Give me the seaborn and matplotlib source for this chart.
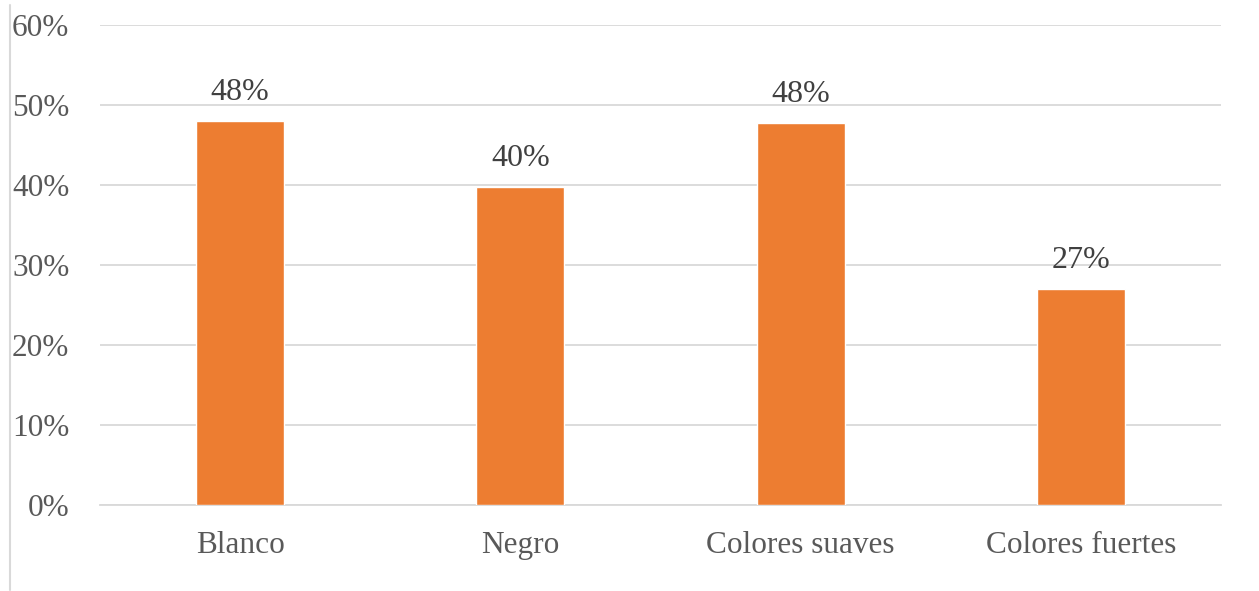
import matplotlib
matplotlib.use("Agg")
import matplotlib.pyplot as plt
import seaborn as sns
import pandas as pd
from matplotlib.lines import Line2D

categories = ["Blanco", "Negro", "Colores suaves", "Colores fuertes"]
values = [0.48, 0.3975, 0.4775, 0.27]
labels = ["48%", "40%", "48%", "27%"]
yticks = [0, 0.1, 0.2, 0.3, 0.4, 0.5, 0.6]
ytick_labels = ["0%", "10%", "20%", "30%", "40%", "50%", "60%"]

sns.set_style("white")
plt.rcParams['font.family'] = ['Liberation Serif', 'DejaVu Serif']

df = pd.DataFrame({"cat": categories, "val": values})

fig = plt.figure(figsize=(12.59, 5.91), dpi=100)
ax = fig.add_axes([100/1259, 1-505/591, 1121/1259, 480/591])

sns.barplot(data=df, x="cat", y="val", color="#ED7D31", width=0.314,
            saturation=1, ax=ax, zorder=3)

ax.set_ylim(0, 0.6)
ax.set_xlim(-0.5, 3.5)
ax.set_yticks(yticks)
ax.set_yticklabels(ytick_labels)
ax.yaxis.grid(True, color="#D9D9D9", linewidth=1.3, zorder=0)
ax.set_axisbelow(True)
for s in ["top", "right", "left"]:
    ax.spines[s].set_visible(False)
ax.spines["bottom"].set_color("#D9D9D9")
ax.spines["bottom"].set_linewidth(1.3)
ax.tick_params(axis="y", length=0, labelsize=22.5, labelcolor="#595959", pad=22)
ax.tick_params(axis="x", length=0, labelsize=22.5, labelcolor="#595959", pad=19)
ax.set_xlabel("")
ax.set_ylabel("")

for i, (v, t) in enumerate(zip(values, labels)):
    ax.annotate(t, (i, v), xytext=(0, 10), textcoords="offset points",
                ha="center", va="bottom", fontsize=23, color="#404040")

# left border line
fig.add_artist(Line2D([10/1259, 10/1259], [1-590/591, 1-5/591],
                      color="#D9D9D9", linewidth=1.5, transform=fig.transFigure))

fig.savefig("out.png", dpi=100)
